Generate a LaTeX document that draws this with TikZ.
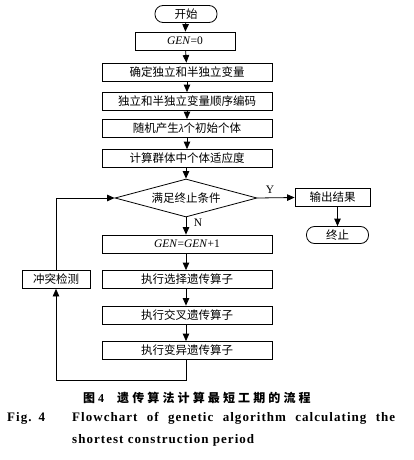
\documentclass[tikz,border=0pt]{standalone}
\usepackage{fontspec}
\setmainfont{Liberation Serif}
\newfontfamily\cjk{Noto Sans CJK SC}
\newfontfamily\cjkcap[LetterSpace=26]{Noto Sans CJK SC}
\newfontfamily\capfont[LetterSpace=8]{Liberation Serif}
\usetikzlibrary{shapes.geometric,arrows.meta}
\begin{document}
\begin{tikzpicture}[x=1pt,y=-1pt,
  box/.style={draw,line width=0.8pt,minimum width=170pt,minimum height=18pt,inner sep=0pt,font=\fontsize{11.5}{12}\selectfont},
  smallbox/.style={box,minimum width=100pt},
  term/.style={draw,line width=0.8pt,rounded corners=8pt,minimum height=17pt,minimum width=62pt,inner sep=0pt,font=\fontsize{11.5}{12}\selectfont},
  dec/.style={draw,line width=0.8pt,diamond,shape aspect=3.7,minimum width=142pt,minimum height=38pt,inner sep=0pt,font=\fontsize{11.5}{12}\selectfont},
  arr/.style={draw,line width=0.8pt,-{Triangle[length=7.5pt,width=6.5pt]}},
  lbl/.style={font=\fontsize{11.5}{12}\selectfont,inner sep=0pt},
  capen/.style={font=\fontsize{13}{14}\capfont\bfseries,inner sep=0pt,anchor=west}]
\useasboundingbox (0,0) rectangle (413,460);
\node[term] (start) at (186,14) {\cjk 开始};
\node[smallbox] (gen0) at (185,41) {\textit{GEN}=0};
\node[box] (b1) at (187,72) {\cjk 确定独立和半独立变量};
\node[box] (b2) at (187,101.5) {\cjk 独立和半独立变量顺序编码};
\node[box] (b3) at (187,128.5) {{\cjk 随机产生}\textit{λ}{\cjk 个初始个体}};
\node[box] (b4) at (187,158.5) {\cjk 计算群体中个体适应度};
\node[dec] (d) at (186,198) {\cjk 满足终止条件};
\node[box,minimum width=75pt] (out) at (332.5,197.5) {\cjk 输出结果};
\node[term] (stop) at (337.5,235) {\cjk 终止};
\node[box] (g1) at (187,244) {\textit{GEN}=\textit{GEN}+1};
\node[box] (s1) at (187,279.5) {\cjk 执行选择遗传算子};
\node[box] (s2) at (187,315) {\cjk 执行交叉遗传算子};
\node[box] (s3) at (187,350.5) {\cjk 执行变异遗传算子};
\node[box,minimum width=68pt] (chk) at (56,279.5) {\cjk 冲突检测};
\coordinate (c1) at (186,380);
\coordinate (c2) at (56,380);
\coordinate (c3) at (56,198);
\draw[arr] (start) -- (gen0);
\draw[arr] (gen0) -- (b1);
\draw[arr] (b1) -- (b2);
\draw[arr] (b2) -- (b3);
\draw[arr] (b3) -- (b4);
\draw[arr] (b4.south -| d.north) -- (d.north);
\draw[arr] (d.east) -- (out.west);
\node[lbl] (y) at (270,190) {Y};
\draw[arr] (stop.north |- out.south) -- (stop.north);
\draw[arr] (d.south) -- (g1.north -| d.south);
\node[lbl] (n) at (198,223) {N};
\draw[arr] (g1.south -| d.south) -- (s1.north -| d.south);
\draw[arr] (s1.south -| d.south) -- (s2.north -| d.south);
\draw[arr] (s2.south -| d.south) -- (s3.north -| d.south);
\draw[arr] (s3.south -| c1) -- (c1) -- (c2) -- (chk.south);
\draw[arr] (chk.north) -- (c3) -- (d.west);
\node[font=\fontsize{12}{12}\selectfont\bfseries,inner sep=0pt,anchor=west] (cap1) at (83,398) {{\cjk 图}\hspace{3pt}4\hspace{13pt}{\cjkcap 遗传算法计算最短工期的流程}};
\node[capen] (cap2a) at (7,418) {Fig.\hspace{7pt}4};
\node[capen] (cap2b) at (72,418) {\hbox to 323pt{Flowchart\hfill of\hfill genetic\hfill algorithm\hfill calculating\hfill the}};
\node[capen] (cap3) at (72,440) {shortest construction period};
\end{tikzpicture}
\end{document}
